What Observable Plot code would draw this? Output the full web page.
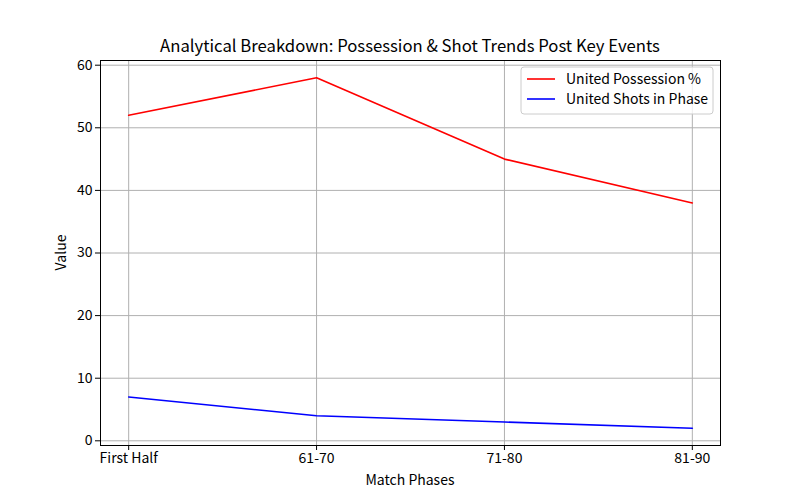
<!DOCTYPE html>
<html><head><meta charset="utf-8">
<script src="https://cdn.jsdelivr.net/npm/d3@7"></script>
<script src="https://cdn.jsdelivr.net/npm/@observablehq/plot@0.6"></script>
<style>body{margin:0;background:#fff}</style>
</head><body><div id="chart"></div>
<script>
const phases = ["First Half", "61-70", "71-80", "81-90"];
const possession = [52, 58, 45, 38];
const shots = [7, 4, 3, 2];
const seriesNames = ["United Possession %", "United Shots in Phase"];
const seriesColors = ["#ff0000", "#0000ff"];
const yTicks = [0, 10, 20, 30, 40, 50, 60];
const xTicks = phases.map((_, i) => i);

const data = [];
phases.forEach((p, i) => {
  data.push({i, phase: p, value: possession[i], series: seriesNames[0]});
  data.push({i, phase: p, value: shots[i], series: seriesNames[1]});
});

const FONT = '"Noto Sans CJK SC", "Noto Sans", sans-serif';
const W = 800, H = 500, ML = 100, MR = 80, MT = 60, MB = 55;

const chart = Plot.plot({
  width: W, height: H, marginLeft: ML, marginRight: MR, marginTop: MT, marginBottom: MB,
  style: {fontFamily: FONT, fontSize: "14px", background: "#fff", color: "#000", overflow: "visible"},
  x: {type: "linear", domain: [-0.15, 3.15]},
  y: {domain: [-0.75, 60.75]},
  color: {domain: seriesNames, range: seriesColors},
  marks: [
    Plot.gridX(xTicks, {stroke: "#b0b0b0", strokeOpacity: 1, strokeWidth: 1}),
    Plot.gridY(yTicks, {stroke: "#b0b0b0", strokeOpacity: 1, strokeWidth: 1}),
    Plot.axisX(xTicks, {tickFormat: i => phases[i], tickSize: 5, tickPadding: 3, label: null, fontSize: 14}),
    Plot.axisY(yTicks, {tickSize: 5, tickPadding: 3, label: null, fontSize: 14}),
    Plot.line(data, {x: "i", y: "value", z: "series", stroke: "series", strokeWidth: 1.6}),
    Plot.frame({stroke: "#000", strokeWidth: 1})
  ]
});
document.getElementById("chart").appendChild(chart);

const svg = d3.select(chart);
svg.append("text").attr("x", ML + (W - ML - MR) / 2).attr("y", 52)
  .attr("text-anchor", "middle").attr("font-family", FONT).attr("font-size", "16.7px").attr("fill", "#000")
  .text("Analytical Breakdown: Possession & Shot Trends Post Key Events");
svg.append("text").attr("x", ML + (W - ML - MR) / 2).attr("y", 485)
  .attr("text-anchor", "middle").attr("font-family", FONT).attr("font-size", "14px").attr("fill", "#000")
  .text("Match Phases");
svg.append("text").attr("transform", `translate(66,${MT + (H - MT - MB) / 2}) rotate(-90)`)
  .attr("text-anchor", "middle").attr("font-family", FONT).attr("font-size", "14px").attr("fill", "#000")
  .text("Value");

const lg = svg.append("g");
lg.append("rect").attr("x", 521).attr("y", 67).attr("width", 192).attr("height", 47)
  .attr("rx", 3).attr("fill", "#fff").attr("fill-opacity", 0.8).attr("stroke", "#cccccc");
seriesNames.forEach((name, k) => {
  const y = 79 + k * 20;
  lg.append("line").attr("x1", 527).attr("x2", 555).attr("y1", y).attr("y2", y)
    .attr("stroke", seriesColors[k]).attr("stroke-width", 1.6);
  lg.append("text").attr("x", 566).attr("y", y).attr("dy", "0.35em").attr("text-anchor", "start")
    .attr("font-family", FONT).attr("font-size", "14px").attr("fill", "#000").text(name);
});
</script>
</body></html>
